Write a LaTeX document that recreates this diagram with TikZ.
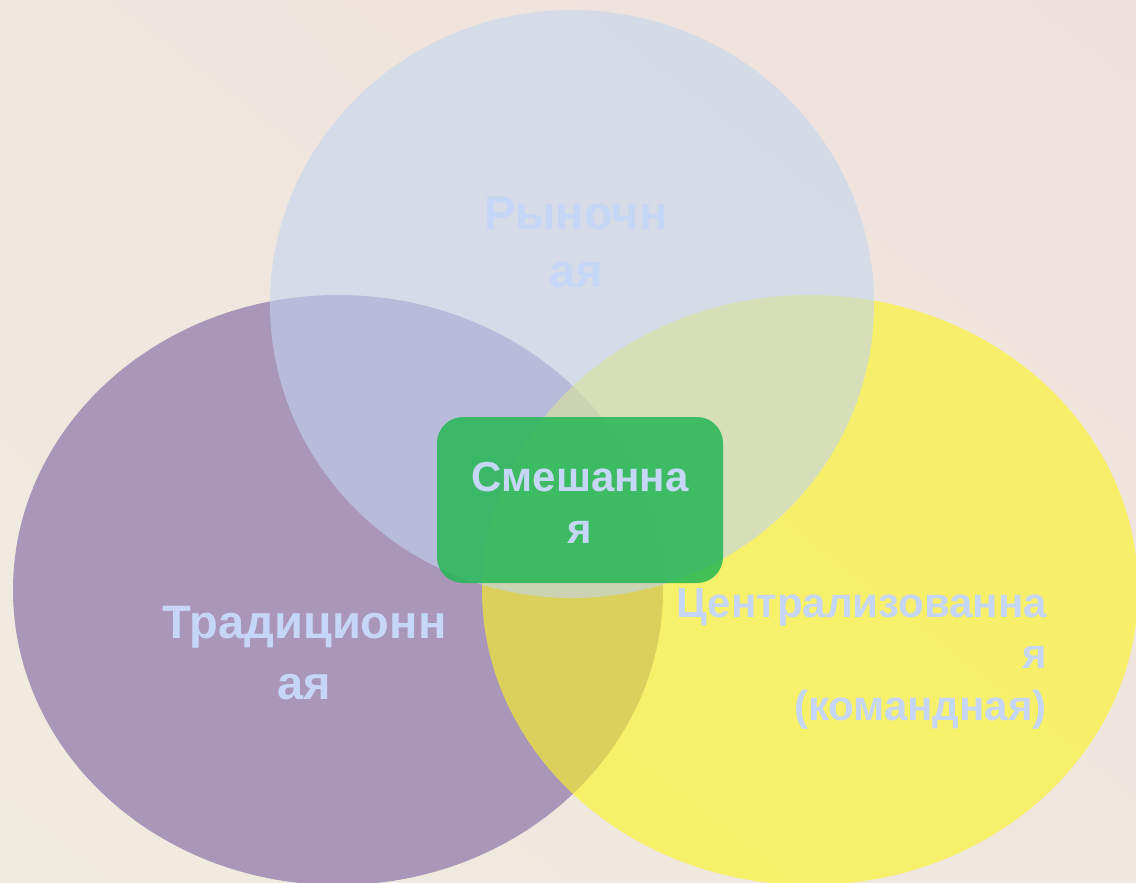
\documentclass[tikz,border=0pt]{standalone}
\usepackage{fontspec}
\setmainfont{Liberation Sans}
\usetikzlibrary{shapes.geometric,shadings}
\definecolor{bgA}{RGB}{240,235,223}
\definecolor{bgB}{RGB}{240,230,222}
\definecolor{bgC}{RGB}{240,225,220}
\definecolor{purp}{RGB}{169,150,184}
\definecolor{yell}{RGB}{252,247,30}
\definecolor{blu}{RGB}{195,213,239}
\definecolor{grn}{RGB}{36,183,84}
\definecolor{txt}{RGB}{197,214,247}
\tikzset{
  lbl/.style={text=txt, font=\bfseries\fontsize{47}{58}\selectfont, inner sep=0pt},
  lblsmall/.style={text=txt, font=\bfseries\fontsize{42}{52}\selectfont, inner sep=0pt},
  setshape/.style={ellipse, draw=none, inner sep=0pt}
}
\begin{document}
\begin{tikzpicture}[x=1pt,y=-1pt]
\useasboundingbox (0,0) rectangle (1136,883);
\clip (0,0) rectangle (1136,883);
\shade[lower left=bgA, upper left=bgB, upper right=bgC, lower right=bgB] (0,0) rectangle (1136,883);
\node[setshape, fill=purp, minimum width=650pt, minimum height=590pt] (trad) at (338,590) {};
\node[setshape, fill=yell, fill opacity=0.6, minimum width=656pt, minimum height=590pt] (cent) at (810,590) {};
\node[setshape, fill=blu, fill opacity=0.6, minimum width=604pt, minimum height=588pt] (ryn) at (572,304) {};
\node[fill=grn, fill opacity=0.85, rounded corners=26pt, minimum width=286pt, minimum height=166pt, inner sep=0pt] (mix) at (580,500) {};
\node[lblsmall, align=center, anchor=base] (tmix) at (580,543) {Смешанна\\я};
\node[lbl, align=center, anchor=base] (tryn) at (576,287) {Рыночн\\ая};
\node[lbl, align=center, anchor=base, font=\bfseries\fontsize{47}{61}\selectfont] (ttrad) at (304.5,699) {Традиционн\\ая};
\node[lblsmall, align=right, anchor=base east, font=\bfseries\fontsize{42}{51.5}\selectfont] (tcent) at (1047,720) {Централизованна\\я\\(командная)};
\end{tikzpicture}
\end{document}
